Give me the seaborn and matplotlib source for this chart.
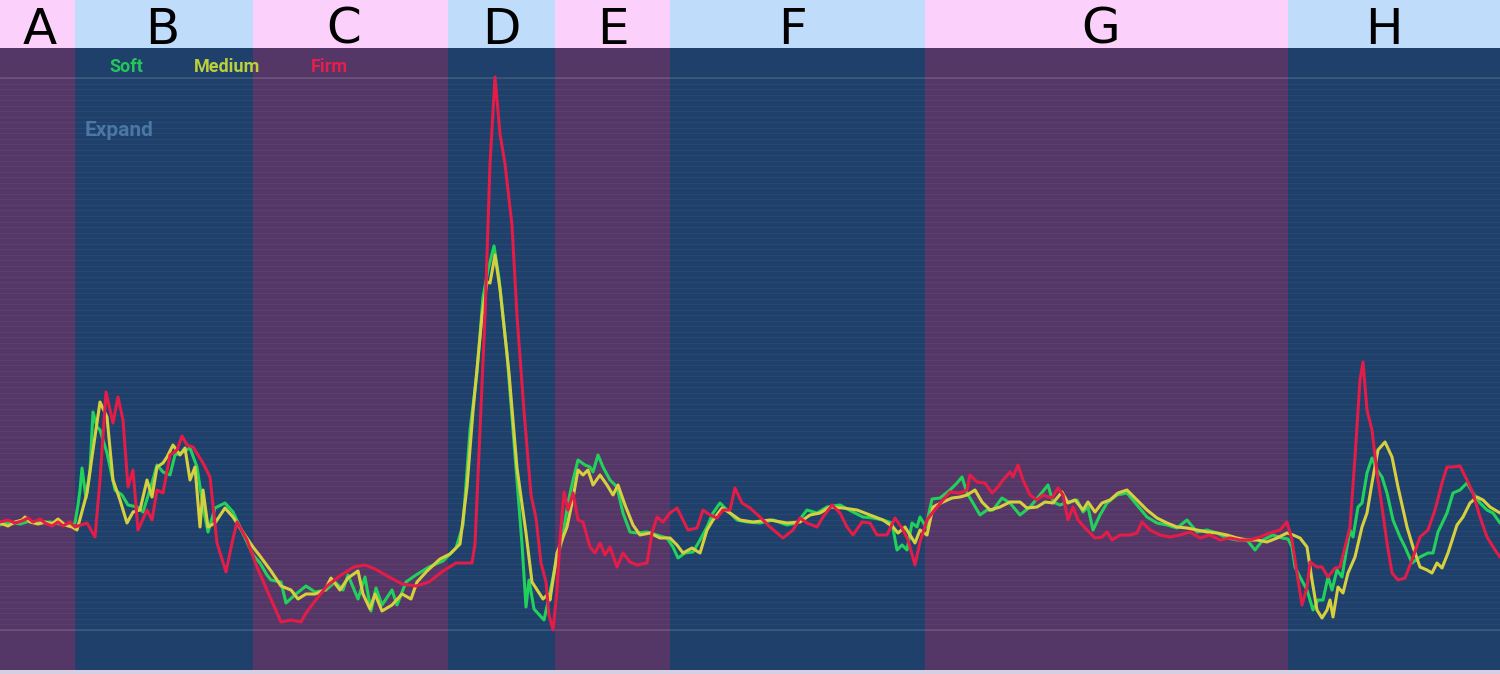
import matplotlib
matplotlib.use("Agg")
import matplotlib.pyplot as plt
import seaborn as sns
import numpy as np
import pandas as pd

# --- data (x = frame, value = normalised force) ---
phases = ['A', 'B', 'C', 'D', 'E', 'F', 'G', 'H']
phase_edges = [0, 75, 253, 448, 555, 670, 925, 1288, 1500]

series_names = ['Soft', 'Medium', 'Firm']

soft_x = [0, 10, 20, 30, 40, 50, 60, 70, 75, 78, 80, 82, 86, 90, 93, 97, 100, 107, 115, 122,
          128, 137, 143, 152, 157, 163, 170, 175, 183, 190, 197, 203, 208, 215, 225, 233, 240,
          247, 253, 260, 267, 271, 281, 286, 296, 306, 315, 326, 335, 343, 348, 358, 365, 371,
          376, 382, 392, 397, 406, 416, 429, 443, 456, 463, 470, 477, 483, 488, 494, 499, 507,
          517, 522, 526, 529, 534, 544, 549, 556, 562, 568, 573, 578, 585, 590, 593, 598, 603,
          610, 617, 623, 630, 637, 647, 657, 667, 673, 678, 685, 693, 700, 707, 713, 720, 727,
          737, 747, 760, 773, 787, 797, 807, 817, 827, 840, 853, 863, 873, 883, 892, 897, 902,
          907, 912, 917, 920, 926, 932, 940, 950, 957, 962, 967, 973, 980, 987, 993, 1002, 1010,
          1020, 1030, 1040, 1048, 1053, 1060, 1068, 1077, 1083, 1088, 1093, 1100, 1107, 1117,
          1127, 1137, 1147, 1157, 1167, 1177, 1187, 1197, 1207, 1217, 1227, 1237, 1247, 1255,
          1263, 1273, 1282, 1288, 1292, 1295, 1300, 1307, 1313, 1318, 1323, 1328, 1332, 1337,
          1342, 1347, 1350, 1353, 1358, 1362, 1367, 1372, 1377, 1382, 1387, 1393, 1400, 1405,
          1412, 1420, 1428, 1433, 1438, 1447, 1453, 1460, 1467, 1473, 1480, 1487, 1493, 1500]
soft_v = [105, 108, 106, 109, 107, 108, 106, 104, 107, 125, 140, 162, 132, 160, 218, 203, 200, 177, 140, 135,
          125, 123, 118, 147, 165, 158, 155, 175, 178, 182, 163, 123, 98, 122, 127, 118, 103,
          88, 75, 67, 55, 50, 48, 27, 36, 44, 38, 40, 48, 40, 55, 31, 53, 19,
          42, 25, 40, 25, 48, 55, 63, 69, 82, 105, 200, 257, 333, 360, 384, 352, 276,
          150, 86, 23, 50, 21, 10, 33, 67, 90, 127, 150, 170, 165, 163, 158, 175, 163,
          150, 143, 117, 98, 97, 98, 95, 92, 83, 72, 77, 78, 90, 103, 117, 127, 120,
          110, 108, 107, 110, 105, 107, 120, 117, 123, 125, 118, 113, 112, 110, 107, 80, 85,
          80, 107, 103, 113, 103, 131, 132, 140, 147, 153, 137, 127, 115, 120, 120, 132, 127,
          115, 123, 135, 145, 128, 125, 128, 130, 118, 123, 100, 115, 127, 135,
          137, 125, 113, 107, 105, 102, 110, 98, 100, 97, 92, 90, 90, 80,
          90, 95, 92, 91, 83, 63, 53, 40, 20, 30, 30, 53, 40, 60,
          53, 83, 100, 93, 123, 127, 157, 172, 160, 153, 137, 110, 93, 83,
          67, 73, 77, 77, 98, 117, 137, 140, 147, 137, 127, 120, 117, 107]

medium_x = [0, 8, 15, 22, 25, 30, 38, 45, 52, 58, 65, 72, 77, 87, 93, 100, 107, 113, 120, 127,
            133, 140, 147, 152, 157, 163, 167, 173, 180, 185, 190, 195, 200, 203, 208, 215, 225,
            233, 240, 253, 260, 271, 281, 291, 298, 306, 315, 325, 331, 340, 348, 358, 363, 370,
            375, 382, 392, 402, 411, 417, 427, 440, 450, 460, 467, 473, 482, 487, 490, 495, 500,
            509, 517, 526, 532, 543, 548, 550, 557, 567, 573, 578, 583, 588, 593, 600, 607, 613,
            618, 625, 633, 640, 650, 660, 670, 677, 683, 692, 700, 707, 713, 722, 730, 740, 753,
            770, 787, 800, 810, 820, 830, 843, 857, 870, 883, 893, 898, 905, 915, 920, 927, 933,
            943, 952, 960, 967, 975, 982, 990, 1000, 1010, 1020, 1027, 1037, 1045, 1053, 1062,
            1068, 1075, 1083, 1088, 1095, 1102, 1110, 1118, 1127, 1137, 1147, 1157, 1167, 1177,
            1187, 1197, 1207, 1217, 1227, 1237, 1247, 1257, 1267, 1277, 1287, 1293, 1300, 1307,
            1312, 1317, 1322, 1327, 1330, 1333, 1338, 1343, 1348, 1355, 1362, 1367, 1372, 1378,
            1385, 1392, 1398, 1407, 1413, 1420, 1427, 1432, 1437, 1442, 1448, 1457, 1463, 1470,
            1477, 1483, 1490, 1500]
medium_v = [107, 104, 108, 110, 113, 108, 106, 108, 106, 111, 105, 103, 100, 137, 180, 228, 213, 150, 130, 107,
            118, 120, 150, 133, 163, 167, 173, 185, 175, 182, 150, 163, 103, 140, 103, 107, 122,
            113, 102, 83, 74, 59, 44, 40, 31, 36, 36, 40, 52, 40, 52, 59, 36, 21,
            36, 19, 25, 36, 31, 48, 59, 71, 76, 86, 143, 219, 314, 348, 347, 375, 341,
            257, 162, 97, 48, 31, 36, 30, 77, 103, 132, 160, 155, 160, 145, 155, 145, 135,
            145, 125, 105, 95, 97, 92, 92, 85, 77, 82, 77, 100, 110, 122, 117, 110, 108,
            110, 107, 108, 115, 117, 123, 122, 120, 115, 110, 103, 97, 103, 87, 100, 95, 123,
            128, 132, 133, 135, 140, 128, 120, 123, 128, 128, 122, 123, 128, 127, 138,
            127, 130, 120, 128, 118, 127, 130, 137, 140, 130, 120, 112, 107, 103,
            102, 100, 98, 97, 95, 92, 90, 90, 88, 92, 97, 95, 92, 83,
            50, 20, 12, 20, 30, 13, 43, 37, 57, 73, 103, 117, 147, 180,
            188, 173, 143, 103, 83, 63, 60, 57, 67, 62, 77, 105, 113, 127,
            133, 130, 123, 117]

firm_x = [0, 8, 15, 22, 28, 33, 40, 45, 52, 58, 63, 70, 75, 87, 95, 100, 106, 113, 118, 123,
          128, 133, 138, 147, 152, 157, 163, 170, 177, 182, 187, 193, 203, 210, 217, 226, 232,
          237, 247, 257, 270, 281, 291, 301, 306, 315, 327, 341, 354, 365, 375, 389, 402, 416,
          429, 443, 456, 472, 475, 480, 485, 490, 495, 500, 505, 512, 517, 524, 531, 536, 541,
          546, 549, 553, 557, 560, 564, 568, 573, 578, 583, 590, 595, 600, 605, 610, 617, 623,
          630, 637, 647, 652, 657, 663, 670, 677, 683, 688, 697, 703, 710, 717, 723, 730, 735,
          742, 750, 760, 770, 783, 793, 800, 807, 817, 823, 832, 840, 847, 853, 862, 870, 877,
          887, 895, 902, 908, 915, 920, 927, 933, 943, 950, 960, 967, 970, 977, 985, 992, 998,
          1003, 1010, 1013, 1018, 1023, 1030, 1037, 1043, 1052, 1058, 1063, 1068, 1073, 1078,
          1087, 1095, 1102, 1107, 1112, 1120, 1130, 1137, 1142, 1150, 1160, 1170, 1180, 1190,
          1200, 1210, 1220, 1230, 1240, 1250, 1260, 1270, 1280, 1287, 1292, 1297, 1302, 1307,
          1310, 1317, 1322, 1328, 1335, 1340, 1345, 1350, 1355, 1360, 1363, 1367, 1372, 1377,
          1382, 1387, 1392, 1398, 1405, 1412, 1420, 1428, 1435, 1442, 1447, 1453, 1460, 1467,
          1473, 1480, 1487, 1495, 1500]
firm_v = [108, 110, 107, 109, 112, 108, 111, 107, 104, 108, 104, 108, 103, 107, 93, 150, 238, 207, 233, 210,
          143, 160, 100, 120, 110, 140, 137, 175, 180, 194, 185, 183, 167, 153, 87, 58, 87,
          108, 90, 63, 33, 8, 10, 8, 17, 29, 44, 55, 63, 65, 61, 53, 46, 44,
          48, 59, 67, 67, 86, 200, 314, 466, 553, 496, 466, 405, 314, 219, 135, 112, 67,
          48, 15, 0, 40, 90, 138, 120, 137, 110, 108, 83, 77, 87, 75, 83, 63, 77,
          68, 65, 67, 97, 113, 108, 117, 122, 110, 100, 102, 120, 115, 112, 120, 120, 142,
          127, 122, 113, 103, 92, 100, 112, 107, 103, 113, 125, 117, 103, 95, 108, 107, 95,
          95, 112, 102, 90, 65, 88, 110, 118, 130, 138, 137, 140, 155, 148, 147, 137, 143,
          150, 158, 153, 165, 150, 135, 130, 135, 132, 142, 135, 110, 123, 110,
          100, 92, 93, 98, 90, 95, 95, 97, 108, 100, 95, 93, 95, 98,
          92, 95, 90, 92, 90, 90, 93, 97, 100, 108, 90, 57, 25, 43,
          68, 63, 63, 53, 62, 63, 83, 103, 173, 250, 268, 220, 200, 157,
          123, 87, 57, 50, 52, 70, 93, 100, 120, 147, 163, 163, 164, 150,
          137, 113, 93, 80, 73]

frames = {'Soft': soft_x, 'Medium': medium_x, 'Firm': firm_x}
values = {'Soft': soft_v, 'Medium': medium_v, 'Firm': firm_v}

df = pd.concat(
    [pd.DataFrame({'frame': frames[s], 'value': values[s], 'series': s}) for s in series_names],
    ignore_index=True,
)

# --- colours ---
line_colors = {'Soft': '#22d05c', 'Medium': '#d6d03e', 'Firm': '#e31c48'}
label_colors = {'Soft': '#24c65a', 'Medium': '#bcd03c', 'Firm': '#e61e4b'}
plot_bg = ['#553767', '#1e406a']
band_bg = ['#fbd0fb', '#bfdcfb']

sns.set_style('white')
plt.rcParams['font.family'] = ['Roboto', 'DejaVu Sans']

fig = plt.figure(figsize=(15, 6.74), dpi=100, facecolor='#d6cfe2')
ax = fig.add_axes([0, 4 / 674, 1, 622 / 674])
band = fig.add_axes([0, 1 - 48 / 674, 1, 48 / 674])

# phase shading; letters sit a little left of centre in the wider bands
letter_shift = [2, -2, -7, 0, 0, -5, -6, -10]
for i, name in enumerate(phases):
    x0, x1 = phase_edges[i], phase_edges[i + 1]
    ax.axvspan(x0, x1, color=plot_bg[i % 2], lw=0, zorder=0)
    band.axvspan(x0, x1, color=band_bg[i % 2], lw=0, zorder=0)
    band.text((x0 + x1) / 2 + letter_shift[i], 4 / 48, name, ha='center', va='baseline',
              fontsize=36, family='DejaVu Sans', color='black')

band.set_xlim(0, 1500)
band.set_ylim(0, 1)
band.set_axis_off()

# faint horizontal scan grid
top_val = 552
for g in np.linspace(0, top_val, 101):
    ax.axhline(g, color='white', alpha=0.05, lw=0.6, zorder=1)
for g in (0, top_val):
    ax.axhline(g, color='white', alpha=0.12, lw=1.2, zorder=1)

sns.lineplot(data=df, x='frame', y='value', hue='series', hue_order=series_names,
             palette=line_colors, estimator=None, sort=False, legend=False,
             lw=2.2, ax=ax, zorder=3)
for line in ax.lines:
    line.set_solid_joinstyle('round')
    line.set_solid_capstyle('round')

# legend-like labels
label_x = {'Soft': 126, 'Medium': 227, 'Firm': 329}
for s in series_names:
    ax.text(label_x[s], 630 - 67, s, ha='center', va='center', fontsize=13,
            fontweight='bold', color=label_colors[s], zorder=4)
ax.text(85, 630 - 130, 'Expand', ha='left', va='center', fontsize=15,
        fontweight='bold', color='#4a77a6', zorder=4)

ax.set_xlim(0, 1500)
ax.set_ylim(-40, 582)
ax.set_xlabel('')
ax.set_ylabel('')
ax.set_xticks([])
ax.set_yticks([])
for sp in ax.spines.values():
    sp.set_visible(False)

fig.savefig('out.png', dpi=100, facecolor=fig.get_facecolor())
